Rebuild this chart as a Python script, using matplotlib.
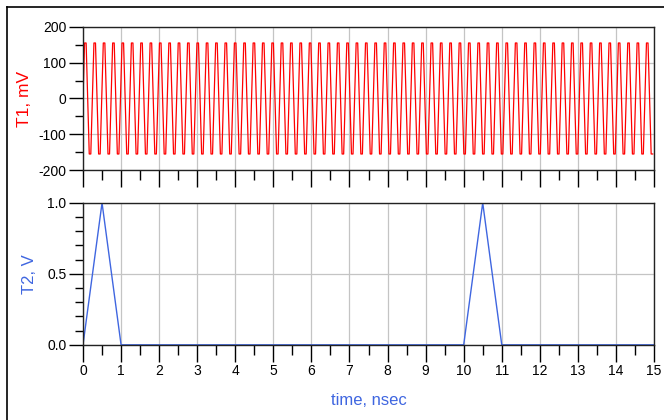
import matplotlib
matplotlib.use('Agg')
import matplotlib.pyplot as plt
from matplotlib.lines import Line2D
from matplotlib.ticker import MultipleLocator
import numpy as np

plt.rcParams['font.family'] = ['Liberation Sans', 'DejaVu Sans']
plt.rcParams['axes.unicode_minus'] = False

# T1: one sampled cycle of the ~4 GHz tone (mV), repeated over the window
t1_cycle_mv = [0, 155, 155, 0, -155, -155]
t1_step_ns = 0.041
t1_cycles = 61

# T2: triangular pulses (V)
t2_time = [0, 0.5, 1.0, 10.0, 10.5, 11.0, 15.0]
t2_volt = [0, 1.0, 0, 0, 1.0, 0, 0]

red = '#ff0000'
blue = '#3f66e0'

t1 = np.tile(t1_cycle_mv, t1_cycles)
t1_time = np.arange(len(t1)) * t1_step_ns

fig = plt.figure(figsize=(6.64, 4.2), dpi=100)

ax1 = fig.add_axes([0.125, 0.595, 0.86, 0.341])
ax2 = fig.add_axes([0.125, 0.179, 0.86, 0.338])

ax1.plot(t1_time, t1, color=red, lw=0.9)
ax2.plot(t2_time, t2_volt, color=blue, lw=1.0)

for ax in (ax1, ax2):
    ax.set_xlim(0, 15)
    ax.xaxis.set_major_locator(MultipleLocator(1))
    ax.xaxis.set_minor_locator(MultipleLocator(0.5))
    ax.grid(True, which='major', color='#c4c4c4', lw=0.9)
    ax.set_axisbelow(True)
    ax.tick_params(which='major', direction='out', length=10, width=1,
                   labelsize=10, pad=2)
    ax.tick_params(which='minor', direction='out', length=6, width=1)
    ax.tick_params(axis='x', which='major', length=12)
    ax.tick_params(axis='x', which='minor', length=7)
    for s in ax.spines.values():
        s.set_color('#222222')
        s.set_linewidth(1)

ax1.set_ylim(-200, 200)
ax1.yaxis.set_major_locator(MultipleLocator(100))
ax1.yaxis.set_minor_locator(MultipleLocator(50))
ax1.tick_params(axis='x', labelbottom=False)
ax1.set_ylabel('T1, mV', color=red, fontsize=12.5, va='center')
ax1.yaxis.set_label_coords(-0.103, 0.5)

ax2.set_ylim(0, 1.0)
ax2.yaxis.set_major_locator(MultipleLocator(0.5))
ax2.yaxis.set_minor_locator(MultipleLocator(0.1))
ax2.set_yticks([0, 0.5, 1.0])
ax2.set_yticklabels(['0.0', '0.5', '1.0'])
ax2.set_ylabel('T2, V', color=blue, fontsize=12, va='center')
ax2.yaxis.set_label_coords(-0.093, 0.5)
ax2.set_xlabel('time, nsec', color=blue, fontsize=12, va='center')
ax2.xaxis.set_label_coords(0.5, -0.39)

# outer frame
fig.add_artist(Line2D([0.0105, 0.0105], [0, 0.983], color='black', lw=1.2,
                      transform=fig.transFigure))
fig.add_artist(Line2D([0.0105, 1.0], [0.983, 0.983], color='black', lw=1.2,
                      transform=fig.transFigure))

fig.savefig('out.png', dpi=100)
